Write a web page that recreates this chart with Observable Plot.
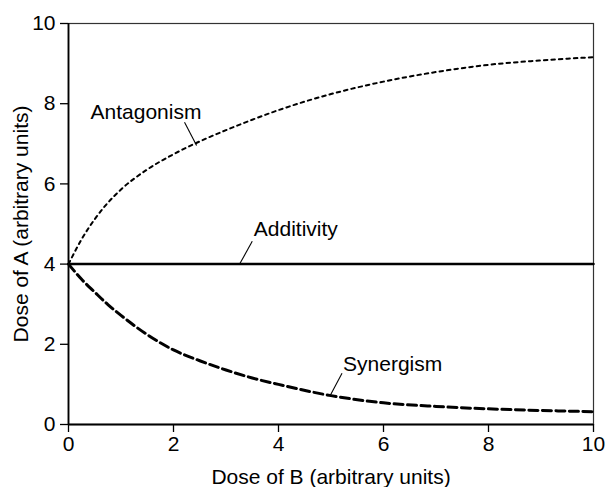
<!DOCTYPE html>
<html><head><meta charset="utf-8">
<script src="https://cdn.jsdelivr.net/npm/d3@7"></script>
<script src="https://cdn.jsdelivr.net/npm/@observablehq/plot@0.6"></script>
<style>html,body{margin:0;padding:0;background:#fff;}</style>
</head><body><div id="chart"></div>
<script>
// Dose of B (x) sample points
const doseB = [0, 0.25, 0.5, 0.75, 1, 1.5, 2, 2.5, 3, 3.5, 4, 5, 6, 7, 8, 9, 10];
// Dose of A (y) per curve
const antagonism = [4, 4.62, 5.12, 5.53, 5.86, 6.36, 6.74, 7.06, 7.34, 7.6, 7.84, 8.24, 8.55, 8.79, 8.97, 9.08, 9.16];
const synergism  = [4, 3.62, 3.3, 2.99, 2.72, 2.24, 1.86, 1.59, 1.36, 1.16, 1.0, 0.72, 0.54, 0.45, 0.39, 0.35, 0.32];
const additivityX = [0, 10];
const additivityY = [4, 4];
const xTicks = [0, 2, 4, 6, 8, 10];
const yTicks = [0, 2, 4, 6, 8, 10];
const xTitle = "Dose of B (arbitrary units)";
const yTitle = "Dose of A (arbitrary units)";
// annotation labels (data coordinates)
const labelText = ["Antagonism", "Additivity", "Synergism"];
const labelX = [0.42, 3.53, 5.23];
const labelY = [7.79, 4.88, 1.5];
const leaderX1 = [2.21, 3.50, 5.21];
const leaderY1 = [7.54, 4.57, 1.28];
const leaderX2 = [2.44, 3.26, 4.98];
const leaderY2 = [6.96, 4.0, 0.71];

const antData = doseB.map((x, i) => ({x, y: antagonism[i]}));
const synData = doseB.map((x, i) => ({x, y: synergism[i]}));
const addData = additivityX.map((x, i) => ({x, y: additivityY[i]}));
const labels = labelText.map((t, i) => ({t, x: labelX[i], y: labelY[i], x1: leaderX1[i], y1: leaderY1[i], x2: leaderX2[i], y2: leaderY2[i]}));

const chart = Plot.plot({
  width: 606, height: 487,
  marginLeft: 68, marginRight: 13, marginTop: 23, marginBottom: 63,
  style: {fontFamily: "'Liberation Sans', Arial, Helvetica, sans-serif", fontSize: "21px", color: "#000", background: "#fff"},
  x: {domain: [0, 10]},
  y: {domain: [0, 10]},
  marks: [
    Plot.frame({stroke: "#333", strokeWidth: 1.2}),
    Plot.axisX({ticks: xTicks, tickSize: 8, tickPadding: 4, strokeWidth: 1.3, label: xTitle, labelAnchor: "center", labelArrow: "none", labelOffset: 59}),
    Plot.axisY({ticks: yTicks, tickSize: 8, tickPadding: 5, strokeWidth: 1.3, label: yTitle, labelAnchor: "center", labelArrow: "none", labelOffset: 55}),
    Plot.ruleX([0], {stroke: "#000", strokeWidth: 1.8}),
    Plot.ruleY([0], {stroke: "#000", strokeWidth: 1.8}),
    Plot.line(addData, {x: "x", y: "y", stroke: "#000", strokeWidth: 2.5}),
    Plot.line(antData, {x: "x", y: "y", stroke: "#000", strokeWidth: 2, strokeDasharray: "3.5,4", curve: "monotone-x"}),
    Plot.line(synData, {x: "x", y: "y", stroke: "#000", strokeWidth: 3, strokeDasharray: "9,4.5", curve: "monotone-x"}),
    Plot.link(labels, {x1: "x1", y1: "y1", x2: "x2", y2: "y2", stroke: "#000", strokeWidth: 1.1}),
    Plot.text(labels, {x: "x", y: "y", text: "t", textAnchor: "start", fill: "#000"})
  ]
});
document.getElementById("chart").appendChild(chart);
</script>
</body></html>
